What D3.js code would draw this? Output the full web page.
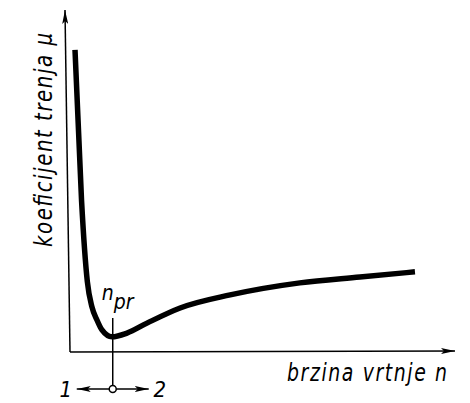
<!DOCTYPE html>
<html>
<head>
<meta charset="utf-8">
<script src="https://cdn.jsdelivr.net/npm/d3@7"></script>
<style>
  body { margin: 0; background: #fff; }
  text { font-family: "DejaVu Sans Condensed", "DejaVu Sans", sans-serif; font-style: italic; fill: #000; }
</style>
</head>
<body>
<div id="chart"></div>
<script>
// Stribeck-type curve: friction coefficient vs. rotational speed
const speed    = [0.13, 0.30, 0.45, 0.57, 0.70, 0.83, 1.09, 1.48, 2.00, 2.86, 4.16, 5.97, 7.53, 8.96];
const friction = [8.78, 4.40, 2.05, 1.31, 0.93, 0.64, 0.44, 0.55, 0.84, 1.28, 1.66, 2.01, 2.18, 2.33];
const nPr = 1.11;
const xLabel = 'brzina vrtnje n';
const yLabel = 'koeficijent trenja μ';
const sideLabels = ['1', '2'];

const width = 470, height = 403;
const svg = d3.select('#chart').append('svg')
    .attr('width', width)
    .attr('height', height);

const x = d3.scaleLinear().domain([0, 10]).range([70, 455]);
const y = d3.scaleLinear().domain([0, 10]).range([352, 8]);

const defs = svg.append('defs');
defs.append('marker')
    .attr('id', 'arrow')
    .attr('viewBox', '0 0 14 6')
    .attr('refX', 14).attr('refY', 3)
    .attr('markerWidth', 14).attr('markerHeight', 6)
    .attr('markerUnits', 'userSpaceOnUse')
    .attr('orient', 'auto')
    .append('path')
    .attr('d', 'M0,0 L14,3 L0,6 L3,3 Z')
    .attr('fill', '#000');

// axes (drawn by hand like the original sketch)
svg.append('line')
    .attr('x1', x(0)).attr('y1', y(0))
    .attr('x2', x(0) - 5).attr('y2', y(10) + 2)
    .attr('stroke', '#000').attr('stroke-width', 1.5)
    .attr('marker-end', 'url(#arrow)');
svg.append('line')
    .attr('x1', x(0)).attr('y1', y(0))
    .attr('x2', x(10)).attr('y2', y(0) - 1)
    .attr('stroke', '#000').attr('stroke-width', 1.5)
    .attr('marker-end', 'url(#arrow)');

// curve
const points = speed.map((s, i) => [s, friction[i]]);
const line = d3.line()
    .x(d => x(d[0]))
    .y(d => y(d[1]))
    .curve(d3.curveMonotoneX);

svg.append('path')
    .datum(points)
    .attr('d', line)
    .attr('fill', 'none')
    .attr('stroke', '#000')
    .attr('stroke-width', 5.5)
    .attr('stroke-linecap', 'butt');

// n_pr marker
const mx = x(nPr);
const cy = 389;
svg.append('line')
    .attr('x1', mx).attr('y1', 318)
    .attr('x2', mx).attr('y2', cy - 3.5)
    .attr('stroke', '#000').attr('stroke-width', 1.5);
svg.append('line')
    .attr('x1', mx - 3.5).attr('y1', cy)
    .attr('x2', mx - 36).attr('y2', cy)
    .attr('stroke', '#000').attr('stroke-width', 1.5)
    .attr('marker-end', 'url(#arrow)');
svg.append('line')
    .attr('x1', mx + 3.5).attr('y1', cy)
    .attr('x2', mx + 36).attr('y2', cy)
    .attr('stroke', '#000').attr('stroke-width', 1.5)
    .attr('marker-end', 'url(#arrow)');
svg.append('circle')
    .attr('cx', mx).attr('cy', cy).attr('r', 3.5)
    .attr('fill', '#fff').attr('stroke', '#000').attr('stroke-width', 1.5);

const npr = svg.append('text')
    .attr('x', mx - 11).attr('y', 300)
    .style('font-size', '21px');
npr.append('tspan').text('n');
npr.append('tspan').attr('dy', 9).text('pr');

svg.append('text')
    .attr('x', mx - 47).attr('y', 397)
    .attr('text-anchor', 'middle')
    .style('font-size', '22px')
    .text(sideLabels[0]);
svg.append('text')
    .attr('x', mx + 47).attr('y', 397)
    .attr('text-anchor', 'middle')
    .style('font-size', '22px')
    .text(sideLabels[1]);

// axis titles
svg.append('text')
    .attr('transform', 'translate(287,381) scale(1,1.15)')
    .attr('textLength', 160)
    .attr('lengthAdjust', 'spacing')
    .style('font-size', '21px')
    .text(xLabel);

svg.append('text')
    .attr('transform', 'translate(52,247) rotate(-90) scale(1,1.15)')
    .attr('textLength', 214)
    .attr('lengthAdjust', 'spacing')
    .style('font-size', '22px')
    .text(yLabel);
</script>
</body>
</html>
